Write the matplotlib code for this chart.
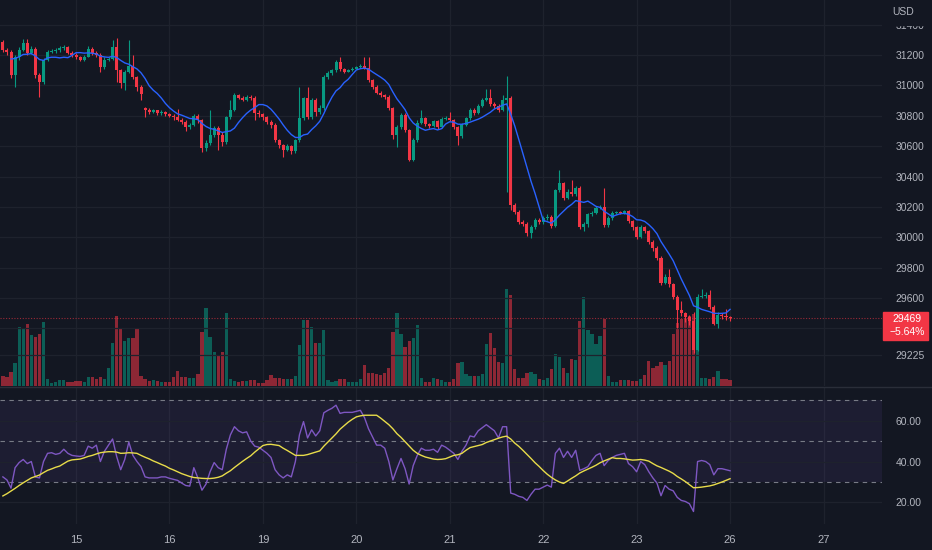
import numpy as np
import pandas as pd
import matplotlib
matplotlib.use("Agg")
import matplotlib.pyplot as plt
from matplotlib.patches import Rectangle
from matplotlib.lines import Line2D

plt.rcParams['font.family'] = ['Liberation Sans', 'DejaVu Sans']

# 1h bars, 23 bars per trading day
day_labels = ['15', '16', '19', '20', '21', '22', '23', '26', '27']
first_day_bar = 18
bars_per_day = 23

first_open = 31285
gap_opens = {35: 30850}

close = [
    31233, 31220, 31068, 31187, 31233, 31280, 31213, 31240, 31068, 31022,
    31167, 31220, 31225, 31230, 31245, 31250, 31215, 31200, 31185, 31170,
    31190, 31240, 31210, 31200, 31120, 31170, 31175, 31250, 31100, 31015,
    31090, 31130, 31055, 30990, 30940, 30838, 30825, 30835, 30815, 30825,
    30810, 30800, 30790, 30775, 30760, 30725, 30740, 30800, 30770, 30585,
    30620, 30673, 30720, 30675, 30627, 30790, 30840, 30937, 30920, 30905,
    30925, 30915, 30820, 30810, 30790, 30760, 30740, 30640, 30605, 30575,
    30600, 30565, 30640, 30785, 30915, 30790, 30904, 30825, 30850, 31055,
    31080, 31100, 31155, 31105, 31090, 31100, 31110, 31118, 31130, 31115,
    31035, 30990, 30950, 30937, 30925, 30850, 30673, 30726, 30805, 30706,
    30509, 30640, 30752, 30785, 30745, 30733, 30765, 30726, 30780, 30787,
    30772, 30726, 30667, 30739, 30785, 30838, 30818, 30864, 30904, 30917,
    30877, 30864, 30838, 30904, 30915, 30212, 30165, 30100, 30090, 30030,
    30065, 30115, 30100, 30125, 30135, 30075, 30311, 30357, 30260, 30300,
    30285, 30325, 30070, 30085, 30150, 30160, 30195, 30200, 30080, 30125,
    30160, 30165, 30162, 30170, 30105, 30065, 30005, 30065, 30040, 29970,
    29930, 29865, 29700, 29740, 29690, 29610, 29520, 29500, 29475, 29450,
    29258, 29610, 29615, 29620, 29540, 29430, 29490, 29480, 29475, 29469,
]
high = [
    31300, 31245, 31230, 31200, 31250, 31305, 31305, 31260, 31250, 31080,
    31180, 31235, 31240, 31245, 31260, 31265, 31260, 31225, 31210, 31195,
    31200, 31260, 31250, 31225, 31210, 31185, 31190, 31300, 31310, 31110,
    31100, 31300, 31200, 31060, 31000, 30860, 30850, 30845, 30840, 30835,
    30830, 30815, 30810, 30845, 30785, 30770, 30755, 30810, 30810, 30780,
    30640, 30838, 30735, 30730, 30690, 30800, 30904, 30950, 30945, 30930,
    30935, 30935, 30930, 30835, 30820, 30800, 30770, 30750, 30650, 30615,
    30615, 30610, 30650, 30990, 30925, 30990, 30915, 30915, 30870, 31070,
    31095, 31110, 31165, 31190, 31115, 31110, 31118, 31125, 31140, 31187,
    31187, 31045, 31000, 30960, 30945, 30935, 30860, 30740, 30815, 30815,
    30715, 30655, 30770, 30838, 30795, 30755, 30775, 30775, 30790, 30800,
    30825, 30780, 30735, 30750, 30795, 30850, 30850, 30875, 30915, 30975,
    30975, 30890, 30875, 30937, 31060, 30930, 30225, 30180, 30115, 30100,
    30080, 30125, 30125, 30140, 30150, 30145, 30320, 30440, 30365, 30315,
    30380, 30340, 30335, 30100, 30160, 30175, 30205, 30215, 30325, 30140,
    30170, 30175, 30175, 30180, 30180, 30115, 30075, 30080, 30075, 30050,
    29980, 29940, 29875, 29760, 29790, 29700, 29620, 29580, 29510, 29490,
    29510, 29625, 29660, 29640, 29650, 29555, 29505, 29500, 29530, 29485,
]
low = [
    31220, 31200, 31050, 30990, 31170, 31225, 31200, 31205, 31050, 30924,
    31010, 31160, 31210, 31215, 31220, 31235, 31205, 31190, 31175, 31160,
    31160, 31185, 31200, 31190, 31090, 31110, 31160, 31165, 31020, 30980,
    30970, 31080, 31040, 30960, 30904, 30790, 30810, 30815, 30805, 30805,
    30800, 30790, 30775, 30765, 30745, 30700, 30710, 30730, 30755, 30560,
    30570, 30610, 30660, 30575, 30600, 30615, 30780, 30830, 30910, 30895,
    30895, 30905, 30772, 30790, 30770, 30745, 30720, 30625, 30590, 30529,
    30565, 30550, 30555, 30630, 30775, 30780, 30780, 30800, 30810, 30840,
    31045, 31070, 31090, 31095, 31080, 31085, 31095, 31105, 31112, 31105,
    31025, 30975, 30940, 30925, 30910, 30840, 30650, 30594, 30715, 30690,
    30500, 30505, 30630, 30745, 30735, 30720, 30725, 30715, 30720, 30770,
    30765, 30715, 30610, 30655, 30730, 30775, 30805, 30810, 30855, 30895,
    30865, 30850, 30825, 30830, 30300, 30180, 30150, 30085, 30075, 30010,
    29995, 30055, 30090, 30090, 30115, 30060, 30065, 30300, 30245, 30250,
    30270, 30275, 30055, 30040, 30070, 30140, 30150, 30185, 30070, 30070,
    30115, 30150, 30150, 30155, 30095, 30050, 29990, 29995, 30025, 29955,
    29910, 29850, 29685, 29690, 29675, 29595, 29400, 29480, 29440, 29420,
    29240, 29250, 29600, 29600, 29530, 29420, 29400, 29465, 29455, 29450,
]
volume = [
    10, 9, 14, 23, 59, 57, 62, 51, 49, 52,
    64, 7, 3, 4, 6, 6, 4, 4, 5, 5,
    4, 9, 9, 7, 9, 7, 18, 43, 70, 58,
    45, 48, 48, 57, 10, 7, 5, 6, 5, 4,
    4, 4, 9, 15, 9, 9, 8, 8, 12, 54,
    78, 49, 34, 31, 34, 73, 7, 5, 4, 5,
    5, 6, 6, 3, 3, 6, 11, 8, 8, 7,
    7, 7, 10, 41, 66, 66, 59, 43, 43, 56,
    6, 4, 5, 7, 7, 4, 4, 4, 7, 21,
    13, 13, 12, 11, 13, 18, 54, 73, 52, 39,
    45, 48, 61, 8, 4, 4, 8, 7, 6, 4,
    4, 7, 23, 24, 12, 10, 10, 10, 12, 42,
    53, 38, 24, 23, 97, 91, 17, 8, 8, 13,
    14, 12, 7, 6, 8, 17, 32, 29, 18, 13,
    27, 26, 65, 89, 56, 52, 42, 50, 67, 10,
    4, 4, 6, 6, 6, 5, 5, 7, 11, 25,
    18, 20, 24, 21, 25, 52, 63, 67, 67, 70,
    72, 88, 8, 8, 7, 9, 15, 7, 7, 6,
]
rsi = [
    32.5, 31, 27, 37, 39.5, 41, 39, 40, 32.5, 32,
    40, 44, 44.3, 43.5, 44, 46, 44, 43, 42.7, 42.5,
    43, 47.5, 46.5, 48, 40, 45, 48, 51, 42.5, 36,
    41, 49.5, 43, 40, 37.5, 32.5, 32, 32, 32, 32.5,
    32.5, 31.8, 31.3, 30.8, 29.5, 28.3, 28, 37, 32, 26,
    29, 35, 39.5, 37, 36, 46, 53, 57, 55, 54,
    54.5, 50, 47.5, 47, 45.5, 44, 42, 36, 33.5, 32,
    33.5, 32.5, 40, 53, 59.5, 51.5, 55.5, 52.5, 55, 63.8,
    65, 66, 67.5, 63.5, 64, 64, 64, 64.5, 65, 61.5,
    56, 52, 48, 48, 46.5, 40, 31, 36.5, 41.5, 36.5,
    29, 38, 43, 46.5, 45.5, 45.5, 46, 44.5, 48, 47,
    45.5, 44, 41, 45, 48, 52.5, 52, 55, 56.5, 58,
    56.5, 55, 51.5, 57, 57, 24.6, 24, 23, 22.5, 21,
    24, 26.5, 26.5, 27.5, 28.5, 27.5, 44, 46.5, 42, 45,
    42, 45.5, 35.7, 36.5, 37.5, 40.5, 43, 44, 38, 40.5,
    42, 43, 43.5, 44, 39, 37.5, 35, 40, 38.5, 35,
    32, 29.5, 23.3, 28.3, 26.5, 25.7, 22.5, 21, 20.5, 19.4,
    15.6, 40, 40.5, 40, 38.5, 33.5, 36.5, 36.5, 36, 35.5,
]
rsi_ma = [
    23.2, 24.3, 25.6, 26.9, 28.3, 29.6, 30.8, 32, 32.7, 33.4,
    34.6, 35.7, 36.4, 37.2, 37.8, 39, 40.2, 40.8, 41, 41.2,
    41.8, 42.5, 43, 43.7, 44.3, 44.6, 44.8, 44.8, 44.6, 44,
    44.1, 44.3, 44.2, 44, 43, 42.1, 41.3, 40.3, 39.5, 38.6,
    37.8, 36.7, 35.9, 35, 34.1, 33.4, 32.7, 32.2, 32, 31.8,
    31.7, 31.7, 31.9, 32.3, 33, 34.3, 35.5, 37.1, 38.6, 40.1,
    41.5, 42.8, 44.6, 46.2, 47.8, 48.3, 48.4, 48.1, 47.8, 46.5,
    45.4, 44.2, 43, 43, 43, 43.4, 44, 44.6, 45.2, 47.5,
    49.5, 51.5, 53.5, 55.8, 57.5, 59.2, 60.6, 61.8, 62.3, 62.6,
    62.6, 62.6, 62.6, 61.2, 59.6, 58, 56, 53.6, 51.8, 49.7,
    47.6, 45.5, 44, 43, 42.2, 41.7, 41.2, 41, 41.1, 41.4,
    42.2, 43, 43.3, 44, 45.5, 46.8, 47.3, 47.8, 48.3, 49.3,
    50, 50.7, 51.4, 52, 52.4, 51, 49, 47.4, 45.5, 43.5,
    41.5, 39.4, 37.6, 35.6, 33.8, 32.3, 31, 30, 29.3, 30.5,
    31.8, 33, 34.4, 35.4, 36.3, 37.2, 38.2, 39.4, 40.3, 41.1,
    41.9, 41.5, 41.5, 41.3, 41, 40.7, 40.8, 41, 40.7, 40.2,
    39, 37.9, 37.1, 36.2, 35.3, 34.2, 32.7, 31.5, 30.2, 28.7,
    27.2, 27.3, 27.5, 27.8, 28.1, 28.6, 29.3, 30, 30.8, 31.6,
]

price_ticks = [29225, 29400, 29600, 29800, 30000, 30200, 30400, 30600,
               30800, 31000, 31200, 31400]
hidden_ticks = [29400]  # sits under the last price tag
rsi_ticks = [20, 40, 60]
last_price = 29469
last_change = '\u22125.64%'

BG = '#131722'
GRID = '#1e222d'
TXT = '#b2b5be'
UP = '#089981'
DOWN = '#f23645'

n = len(close)
assert len(high) == n and len(low) == n and len(volume) == n
assert len(rsi) == n and len(rsi_ma) == n

c = np.array(close, dtype=float)
o = np.r_[first_open, c[:-1]]
for k, v in gap_opens.items():
    o[k] = v
h = np.maximum(np.array(high, float), np.maximum(o, c))
l = np.minimum(np.array(low, float), np.minimum(o, c))
x = np.arange(n)
up = c >= o
cols = np.where(up, UP, DOWN)
ma = pd.Series(c).rolling(9, min_periods=3).mean()

W, H = 932, 550
def rect(x0, y0, x1, y1):
    return [x0 / W, 1 - y1 / H, (x1 - x0) / W, (y1 - y0) / H]

fig = plt.figure(figsize=(W / 100, H / 100), dpi=100, facecolor=BG)
ax_vol = fig.add_axes(rect(0, 0, 882, 386))
ax = fig.add_axes(rect(0, 0, 882, 386), sharex=ax_vol)
ax_rsi = fig.add_axes(rect(0, 388, 882, 524), sharex=ax_vol)

ax_vol.set_facecolor(BG)
ax.set_facecolor('none')
ax_rsi.set_facecolor(BG)
for a in (ax_vol, ax, ax_rsi):
    for s in a.spines.values():
        s.set_visible(False)

tick_pos = [first_day_bar + bars_per_day * k for k in range(len(day_labels))]
ax_vol.set_xlim(-0.71, 216.4)

# grid
for t in tick_pos:
    ax_vol.axvline(t, color=GRID, lw=0.9, zorder=0)
    ax_rsi.axvline(t, color=GRID, lw=0.9, zorder=0)
ax.set_ylim(29021, 31562)
for p in price_ticks:
    ax.axhline(p, color=GRID, lw=0.9, zorder=0)

# volume
ax_vol.bar(x, volume, width=0.8, color=cols, alpha=0.55, zorder=1)
ax_vol.set_ylim(0, 386)
ax_vol.set_yticks([])
ax_vol.tick_params(axis='x', length=0, labelbottom=False)

# candles
ax.vlines(x, l, h, colors=cols, lw=0.8, zorder=3)
body = np.maximum(np.abs(c - o), 5)
ax.bar(x, body, bottom=np.minimum(o, c), width=0.74, color=cols, zorder=4)
ax.plot(x, ma, color='#2962ff', lw=1.0, zorder=5)
ax.axhline(last_price, color=DOWN, lw=0.8, ls=(0, (1, 1.5)), alpha=0.6, zorder=2)

ax.yaxis.tick_right()
ax.set_yticks(price_ticks)
ax.set_yticklabels(['' if p in hidden_ticks else str(p) for p in price_ticks])
ax.tick_params(axis='y', length=0, pad=10, labelcolor=TXT, labelsize=7.5)
ax.tick_params(axis='x', length=0, labelbottom=False)

# RSI pane
ax_rsi.set_ylim(9.5, 75.9)
ax_rsi.axhspan(30, 70, color='#7e57c2', alpha=0.1, lw=0, zorder=0)
for r in rsi_ticks:
    ax_rsi.axhline(r, color=GRID, lw=0.9, zorder=0)
for r in (70, 50, 30):
    ax_rsi.axhline(r, color='#787b86', lw=0.8, ls=(0, (4, 4)), zorder=1)
ax_rsi.plot(x, rsi, color='#7e57c2', lw=1.0, zorder=3)
ax_rsi.plot(x, rsi_ma, color='#e8dc4a', lw=1.0, zorder=4)
ax_rsi.yaxis.tick_right()
ax_rsi.set_yticks(rsi_ticks)
ax_rsi.set_yticklabels(['%.2f' % r for r in rsi_ticks])
ax_rsi.tick_params(axis='y', length=0, pad=10, labelcolor=TXT, labelsize=7.5)
ax_rsi.set_xticks(tick_pos)
ax_rsi.set_xticklabels(day_labels)
ax_rsi.tick_params(axis='x', length=0, pad=8, labelcolor=TXT, labelsize=8)

# pane separator
fig.add_artist(Line2D([0, 1], [1 - 387 / H] * 2, color='#2a2e39', lw=1.0))

# top of price scale with currency, cutting off the 31400 label
fig.patches.append(Rectangle((884 / W, 1 - 25 / H), 48 / W, 25 / H,
                             transform=fig.transFigure, color=BG, zorder=10))
fig.text(892 / W, 1 - 12 / H, 'USD', color=TXT, fontsize=7.5,
         va='center', ha='left', zorder=11)

# last price label
fig.patches.append(Rectangle((883 / W, 1 - 340 / H), 45 / W, 28 / H,
                             transform=fig.transFigure, color=DOWN, zorder=10))
fig.text(892 / W, 1 - 319 / H, str(last_price), color='white', fontsize=7.5,
         va='center', ha='left', zorder=11)
fig.text(890 / W, 1 - 332 / H, last_change, color='white', fontsize=7.5,
         va='center', ha='left', zorder=11)

fig.savefig('out.png', dpi=100, facecolor=BG)
